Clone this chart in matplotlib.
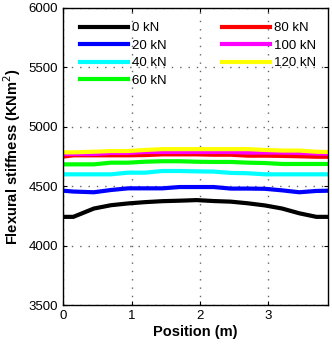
import numpy as np
import matplotlib.pyplot as plt

plt.rcParams['font.family'] = ['Liberation Sans', 'DejaVu Sans']

# positions along the beam (m)
position = [0, 0.15, 0.45, 0.7, 0.95, 1.2, 1.45, 1.7, 1.95, 2.2, 2.45, 2.7, 2.95, 3.2, 3.45, 3.7, 3.87]

# flexural stiffness (KNm^2) for each prestress load
ei_0 = [4242, 4242, 4312, 4340, 4355, 4366, 4374, 4378, 4383, 4375, 4370, 4356, 4338, 4312, 4272, 4242, 4242]
ei_20 = [4462, 4455, 4449, 4468, 4482, 4482, 4482, 4493, 4493, 4493, 4480, 4480, 4478, 4465, 4449, 4460, 4462]
ei_40 = [4600, 4600, 4600, 4600, 4614, 4614, 4628, 4628, 4625, 4623, 4612, 4609, 4600, 4600, 4600, 4600, 4600]
ei_60 = [4684, 4684, 4684, 4698, 4698, 4706, 4710, 4710, 4706, 4704, 4704, 4698, 4695, 4687, 4687, 4687, 4687]
ei_80 = [4749, 4760, 4760, 4760, 4760, 4762, 4768, 4768, 4768, 4765, 4765, 4757, 4757, 4755, 4752, 4748, 4748]
ei_100 = [4771, 4771, 4771, 4780, 4780, 4788, 4788, 4788, 4788, 4788, 4788, 4783, 4783, 4783, 4780, 4775, 4773]
ei_120 = [4785, 4785, 4790, 4796, 4796, 4805, 4812, 4812, 4812, 4812, 4812, 4812, 4805, 4800, 4800, 4790, 4788]

labels = ['0 kN', '20 kN', '40 kN', '60 kN', '80 kN', '100 kN', '120 kN']
colors = ['black', 'blue', 'cyan', 'lime', 'red', 'magenta', 'yellow']
series = [ei_0, ei_20, ei_40, ei_60, ei_80, ei_100, ei_120]

fig = plt.figure(figsize=(3.32, 3.47), dpi=100)
ax = fig.add_axes([0.19, 0.121, 0.798, 0.856])

for vals, lab, c in zip(series, labels, colors):
    ax.plot(position, vals, color=c, lw=3.0, label=lab)

ax.set_xlim(0, 3.87)
ax.set_ylim(3500, 6000)
ax.set_xticks([0, 1, 2, 3])
ax.set_yticks([3500, 4000, 4500, 5000, 5500, 6000])
ax.grid(True, linestyle=(0, (1, 5)), color='0.4', lw=1.0)
ax.tick_params(direction='in', top=True, right=True, labelsize=9.5, length=3)
for s in ax.spines.values():
    s.set_linewidth(1.0)

ax.set_xlabel('Position (m)', fontsize=10.5, fontweight='bold', labelpad=2)
ax.set_ylabel('Flexural stiffness (KNm$^2$)', fontsize=10.5, fontweight='bold', labelpad=4)

ax.legend(ncol=2, frameon=False, loc='upper left', bbox_to_anchor=(0.04, 0.975),
          fontsize=9.5, handlelength=3.6, handletextpad=0.3, columnspacing=4.25,
          labelspacing=0.4, borderpad=0)

fig.savefig('out.png', dpi=100)
